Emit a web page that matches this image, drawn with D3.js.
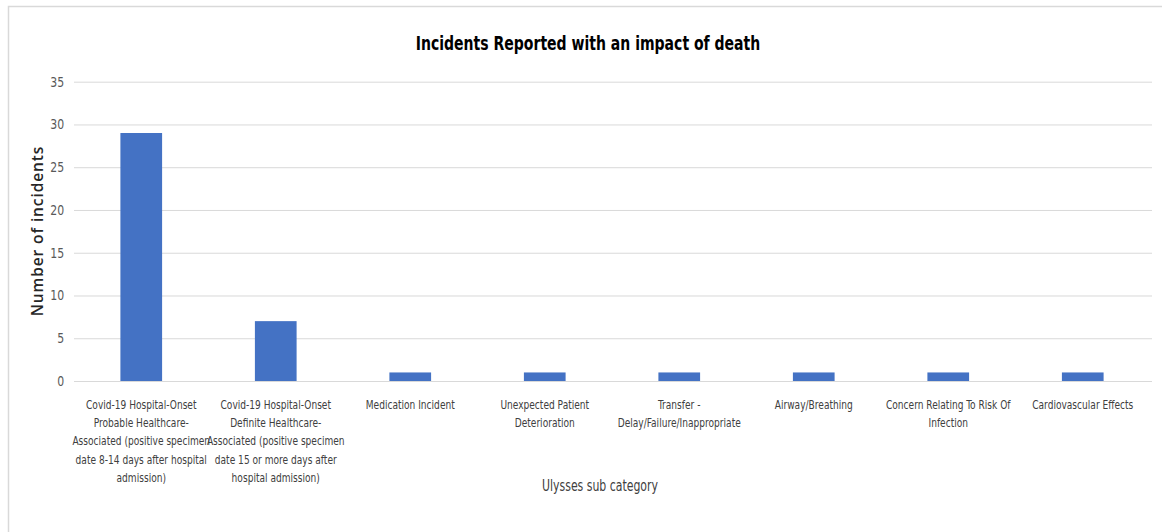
<!DOCTYPE html>
<html>
<head>
<meta charset="utf-8">
<script src="https://cdn.jsdelivr.net/npm/d3@7"></script>
<style>
  html, body { margin: 0; padding: 0; background: #fff; }
  svg { display: block; }
  .narrow { font-family: "DejaVu Sans Condensed", "Liberation Sans Narrow", sans-serif; font-stretch: condensed; }
</style>
</head>
<body>
<svg id="chart" width="1162" height="532"></svg>
<script>
// Incidents with an impact of death, by Ulysses sub category
const categories = [
  "Covid-19 Hospital-Onset\nProbable Healthcare-\nAssociated (positive specimen\ndate 8-14 days after hospital\nadmission)",
  "Covid-19 Hospital-Onset\nDefinite Healthcare-\nAssociated (positive specimen\ndate 15 or more days after\nhospital admission)",
  "Medication Incident",
  "Unexpected Patient\nDeterioration",
  "Transfer -\nDelay/Failure/Inappropriate",
  "Airway/Breathing",
  "Concern Relating To Risk Of\nInfection",
  "Cardiovascular Effects"
];
const incidents = [29, 7, 1, 1, 1, 1, 1, 1];
const yTicks = [0, 5, 10, 15, 20, 25, 30, 35];

const titleText = "Incidents Reported with an impact of death";
const xTitle = "Ulysses sub category";
const yTitle = "Number of incidents";

const svg = d3.select("#chart");

// chart frame
svg.append("rect")
  .attr("x", 8.5).attr("y", 6.5)
  .attr("width", 1200).attr("height", 600)
  .attr("fill", "#fff")
  .attr("stroke", "#d9d9d9").attr("stroke-width", 1.5);

const plot = { left: 74, right: 1150, top: 81.7, bottom: 381 };

const x = d3.scaleBand()
  .domain(categories)
  .range([plot.left, plot.right])
  .paddingInner(0.69)
  .paddingOuter(0.345);

const y = d3.scaleLinear()
  .domain([0, 35])
  .range([plot.bottom, plot.top]);

// horizontal gridlines and value labels
const yAxis = d3.axisLeft(y)
  .tickValues(yTicks)
  .tickSize(-(plot.right + 2 - plot.left))
  .tickPadding(11)
  .tickFormat(d3.format("d"));

const gy = svg.append("g")
  .attr("transform", `translate(${plot.left},0)`)
  .call(yAxis);
gy.select(".domain").remove();
gy.selectAll(".tick line").attr("stroke", "#d9d9d9").attr("stroke-width", 1);
gy.selectAll(".tick text")
  .attr("class", "narrow")
  .attr("font-size", 13.5)
  .attr("fill", "#595959")
  .attr("transform", "scale(0.9,1)");

// bars
svg.append("g")
  .selectAll("rect")
  .data(incidents)
  .join("rect")
  .attr("x", (d, i) => x(categories[i]))
  .attr("width", x.bandwidth())
  .attr("y", d => y(d))
  .attr("height", d => y(0) - y(d))
  .attr("fill", "#4472c4");

// category labels below the axis
const xAxis = d3.axisBottom(x).tickSize(0).tickFormat("");
const gx = svg.append("g")
  .attr("transform", `translate(0,${plot.bottom})`)
  .call(xAxis);
gx.select(".domain").remove();

gx.selectAll(".tick")
  .append("text")
  .attr("class", "narrow")
  .attr("text-anchor", "middle")
  .attr("font-size", 12)
  .attr("fill", "#404040")
  .attr("transform", "scale(0.84,1)")
  .each(function(d) {
    const lines = d.split("\n");
    d3.select(this).selectAll("tspan")
      .data(lines)
      .join("tspan")
      .attr("x", 0)
      .attr("y", (l, i) => 28 + i * 18.2)
      .text(l => l);
  });

// titles
svg.append("text")
  .attr("class", "narrow")
  .attr("transform", "translate(588,50) scale(0.8,1)")
  .attr("text-anchor", "middle")
  .attr("font-size", 19.5)
  .attr("font-weight", "bold")
  .attr("fill", "#000")
  .text(titleText);

svg.append("text")
  .attr("class", "narrow")
  .attr("transform", "translate(600,491) scale(0.81,1)")
  .attr("text-anchor", "middle")
  .attr("font-size", 15)
  .attr("fill", "#404040")
  .text(xTitle);

svg.append("text")
  .attr("transform", "translate(43,231) rotate(-90)")
  .attr("text-anchor", "middle")
  .attr("font-family", "'Open Sans', 'DejaVu Sans', sans-serif")
  .attr("font-size", 15.5)
  .attr("font-weight", 600)
  .attr("letter-spacing", 0.9)
  .attr("fill", "#262626")
  .text(yTitle);
</script>
</body>
</html>
